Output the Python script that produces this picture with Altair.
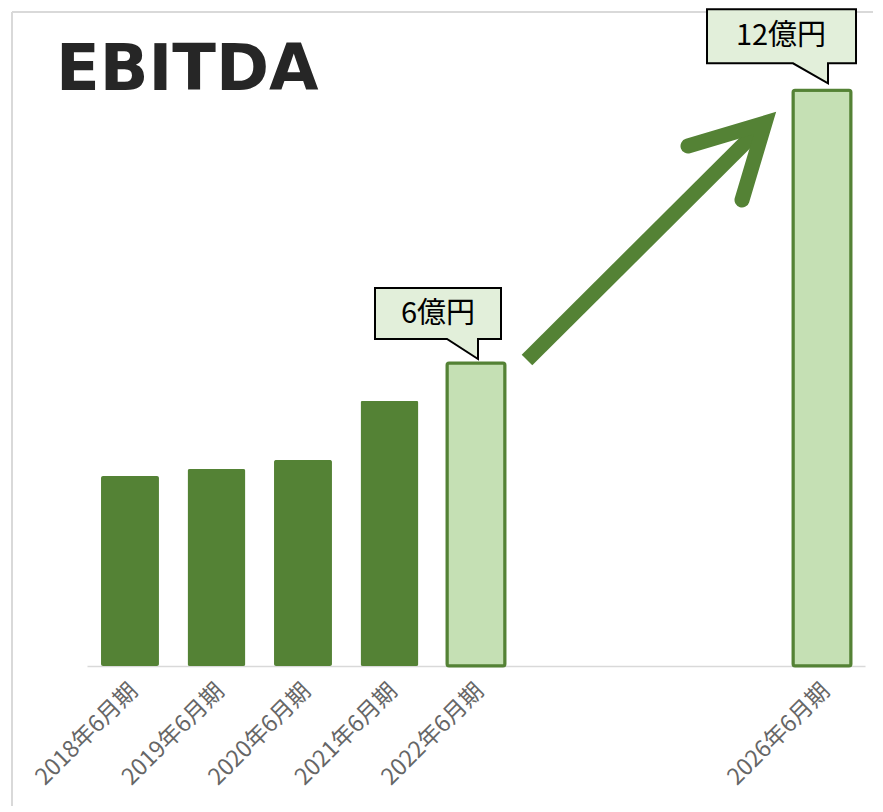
import altair as alt
import pandas as pd

# ---- data ----
periods = ["2018年6月期", "2019年6月期", "2020年6月期", "2021年6月期", "2022年6月期", "2026年6月期"]
ebitda = [3.76, 3.90, 4.08, 5.25, 6.0, 11.4]  # 億円
kind = ["actual", "actual", "actual", "actual", "plan", "plan"]
slots = ["2018年6月期", "2019年6月期", "2020年6月期", "2021年6月期", "2022年6月期",
         "2023", "2024", "2025", "2026年6月期"]
callout_periods = ["2022年6月期", "2026年6月期"]
callout_values = [6.0, 11.4]
callout_labels = ["6億円", "12億円"]
title_text = "EBITDA"

bars_df = pd.DataFrame({"period": periods, "value": ebitda, "kind": kind})
call_df = pd.DataFrame({"period": callout_periods, "value": callout_values, "label": callout_labels})
one = pd.DataFrame({"a": [0]})

DARK = "#548235"
LIGHT = "#c5e0b4"
JP = "Noto Sans CJK JP"

x_enc = alt.X(
    "period:N",
    scale=alt.Scale(domain=slots, paddingInner=0.33, paddingOuter=0.162),
    axis=alt.Axis(
        title=None, labelAngle=-45, labelAlign="right", labelBaseline="middle",
        labelPadding=21, labelOffset=4, labelFontSize=23, labelFont=JP, labelColor="#666666",
        labelOverlap=False, ticks=False, domainColor="#d9d9d9", domainWidth=1.5,
        labelExpr="length(datum.label) > 4 ? datum.label : ''",
    ),
)
y_enc = alt.Y("value:Q", scale=alt.Scale(domain=[0, 12], nice=False), axis=None)

dark_bars = alt.Chart(bars_df).transform_filter(alt.datum.kind == "actual").mark_bar(
    color=DARK, cornerRadius=2
).encode(x=x_enc, y=y_enc)

light_bars = alt.Chart(bars_df).transform_filter(alt.datum.kind == "plan").mark_bar(
    fill=LIGHT, stroke=DARK, strokeWidth=3, cornerRadius=2
).encode(x=x_enc, y=y_enc)

path_small = "M0.25,-0.24 L0.02,-0.24 L0.02,-0.04 L-0.29,-0.24 L-1.01,-0.24 L-1.01,-0.75 L0.25,-0.75 Z"
path_big = "M0.34,-0.27 L0.06,-0.27 L0.06,-0.07 L-0.29,-0.27 L-1.15,-0.27 L-1.15,-0.81 L0.34,-0.81 Z"

bubbles = alt.Chart(call_df).mark_point(
    filled=True, fill="#e2efda", fillOpacity=1, stroke="black", strokeWidth=2,
    strokeOpacity=1, strokeJoin="miter", size=40000, opacity=1
).encode(
    x=x_enc, y=y_enc,
    shape=alt.Shape("label:N", scale=alt.Scale(domain=callout_labels, range=[path_small, path_big]), legend=None),
)

txt_small = alt.Chart(call_df).transform_filter(alt.datum.label == "6億円").mark_text(
    dx=-38, dy=-49, fontSize=29, font=JP, color="black", align="center", baseline="middle"
).encode(x=x_enc, y=y_enc, text="label:N")

txt_big = alt.Chart(call_df).transform_filter(alt.datum.label == "12億円").mark_text(
    dx=-41, dy=-54, fontSize=29, font=JP, color="black", align="center", baseline="middle"
).encode(x=x_enc, y=y_enc, text="label:N")

# decorative arrow (relative to plot origin at page (87,60))
shaft = alt.Chart(one).mark_rule(color=DARK, strokeWidth=15, strokeCap="butt").encode(
    x=alt.value(527 - 87), y=alt.value(360 - 60), x2=alt.value(765 - 87), y2=alt.value(123 - 60)
)
head = alt.Chart(one).mark_point(
    shape="M-0.77,0.23 L0,0 L-0.23,0.77", filled=False, stroke=DARK, strokeWidth=15,
    strokeCap="round", strokeJoin="miter", size=40000, opacity=1, strokeOpacity=1
).encode(x=alt.value(765 - 87), y=alt.value(123 - 60))

# frame lines
frame_top = alt.Chart(one).mark_rule(color="#d9d9d9", strokeWidth=2).encode(
    x=alt.value(-75), x2=alt.value(820), y=alt.value(-48)
)
frame_left = alt.Chart(one).mark_rule(color="#d9d9d9", strokeWidth=2).encode(
    x=alt.value(-75), y=alt.value(-48), y2=alt.value(790)
)

title = alt.Chart(one).mark_text(
    fontSize=64, font="DejaVu Sans", fontWeight="bold", color="#262626",
    align="left", baseline="alphabetic"
).encode(x=alt.value(-31), y=alt.value(30), text=alt.value(title_text))

chart = alt.layer(
    frame_top, frame_left, title, dark_bars, light_bars, shaft, head, bubbles, txt_small, txt_big
).properties(
    width=778, height=606,
    autosize=alt.AutoSizeParams(type="none"),
    padding={"left": 79, "top": 52, "right": 8, "bottom": 140},
    background="white",
).configure_view(strokeWidth=0)

chart.save("out.html", embed_options={"renderer": "svg", "actions": False})
